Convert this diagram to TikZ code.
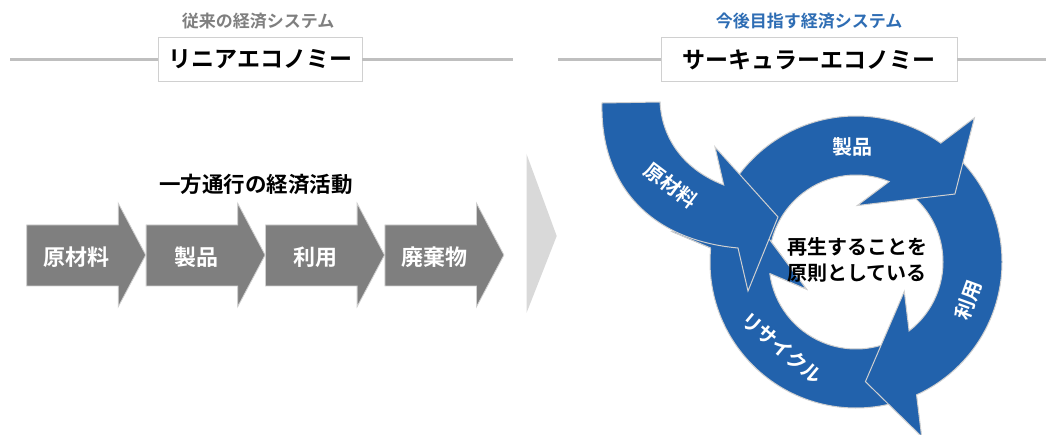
\documentclass[tikz,border=0pt]{standalone}
\usepackage{fontspec}
\newfontfamily\jpb{Noto Sans CJK JP Bold}
\usetikzlibrary{calc}
\definecolor{ringblue}{HTML}{2262AC}
\definecolor{headblue}{HTML}{2E6DB4}
\definecolor{arrowgray}{HTML}{7F7F7F}
\definecolor{subgray}{HTML}{7F7F7F}
\definecolor{linegray}{HTML}{BFBFBF}
\definecolor{edgegray}{HTML}{D0D0D0}
\definecolor{chevgray}{HTML}{D9D9D9}
\tikzset{
  blueshape/.style={fill=ringblue, draw=edgegray, line width=1pt},
  bluefill/.style={fill=ringblue},
  blueedge/.style={draw=edgegray, line width=1pt},
  grayarrow/.style={fill=arrowgray, draw=edgegray, line width=0.8pt},
  subtitletext/.style={font=\jpb\fontsize{17}{20}\selectfont, inner sep=0pt},
  titlebox/.style={draw=edgegray, fill=white, line width=0.8pt, inner sep=0pt,
    font=\jpb\fontsize{23}{26}\selectfont, minimum height=44.4pt},
  headtext/.style={font=\jpb\fontsize{21.5}{24}\selectfont, inner sep=0pt},
  graylabel/.style={font=\jpb\fontsize{22}{24}\selectfont, text=white, inner sep=0pt},
  ringlabel/.style={font=\jpb\fontsize{20}{24}\selectfont, text=white, inner sep=0pt},
  centertext/.style={font=\jpb\fontsize{20}{26}\selectfont, align=center, inner sep=0pt},
  ringarrow/.pic={
    \path[blueshape] (165:146) arc[start angle=165, end angle=54.5, radius=146]
      -- (50.6:186.6) -- (34.5:120) -- (88.7:56.5) -- (67.6:87)
      arc[start angle=67.6, end angle=175, radius=87] -- cycle;
  },
  ringhead/.pic={
    \path[bluefill] (50.6:186.6) -- (34.5:120) -- (88.7:56.5) -- cycle;
    \path[blueedge] (54.5:146) -- (50.6:186.6) -- (34.5:120) -- (88.7:56.5) -- (67.6:87);
  }
}
\begin{document}
\begin{tikzpicture}[x=1pt, y=1pt]
\useasboundingbox (0,0) rectangle (1046,-435);
\fill[white] (0,0) rectangle (1046,-435);

% ---------- headers ----------
\node[titlebox, minimum width=204pt] (ltitle) at (260,-59.5) {リニアエコノミー};
\node[titlebox, minimum width=296pt] (rtitle) at (809,-59.5) {サーキュラーエコノミー};
\coordinate (lA) at (10,-59.5);
\coordinate (lB) at (513,-59.5);
\coordinate (rA) at (558,-59.5);
\coordinate (rB) at (1046,-59.5);
\draw[line width=3.5pt, linegray] (lA) -- (ltitle.west);
\draw[line width=3.5pt, linegray] (ltitle.east) -- (lB);
\draw[line width=3.5pt, linegray] (rA) -- (rtitle.west);
\draw[line width=3.5pt, linegray] (rtitle.east) -- (rB);
\node[subtitletext, text=subgray] (lsub) at (258,-21.5) {従来の経済システム};
\node[subtitletext, text=headblue] (rsub) at (809,-21.5) {今後目指す経済システム};

% ---------- linear economy ----------
\node[headtext] (oneway) at (256,-184) {一方通行の経済活動};
\foreach \i/\t in {0/原材料,1/製品,2/利用,3/廃棄物} {
  \pgfmathsetmacro\xo{26.7+119.4*\i}
  \draw[grayarrow] (\xo,-225) -- (\xo+91.6,-225) -- (\xo+91.6,-203.3)
     -- (\xo+119,-255) -- (\xo+91.6,-306.7) -- (\xo+91.6,-286) -- (\xo,-286) -- cycle;
  \node[graylabel] (g\i) at (\xo+50,-257) {\t};
}

% ---------- big chevron ----------
\fill[chevgray] (526.5,-154) -- (556.7,-236) -- (526.5,-313) -- cycle;

% ---------- circular economy ----------
\coordinate (C) at (856,-262);
\pic[rotate=120] at (C) {ringarrow};
\pic[rotate=-120] at (C) {ringarrow};
\pic at (C) {ringarrow};
\pic[rotate=120] at (C) {ringhead};

% raw material arrow
\path[blueshape] (602,-103) -- (660,-102)
   .. controls (662,-140) and (685,-170) .. (723.7,-185)
   -- (715,-147) -- (778,-217) -- (748,-291) -- (738,-248)
   .. controls (650,-240) and (600,-185) .. (602,-103) -- cycle;

\node[ringlabel] (lseihin) at (852,-147) {製品};
\node[ringlabel, rotate=70] (lriyou) at (968,-300) {利用};
\node[ringlabel, rotate=-40] (lrecycle) at (782,-348) {リサイクル};
\node[ringlabel, rotate=-37] (lgenzai) at (671,-185) {原材料};
\node[centertext] (ctext) at (857,-260) {再生することを\\原則としている};
\end{tikzpicture}
\end{document}
